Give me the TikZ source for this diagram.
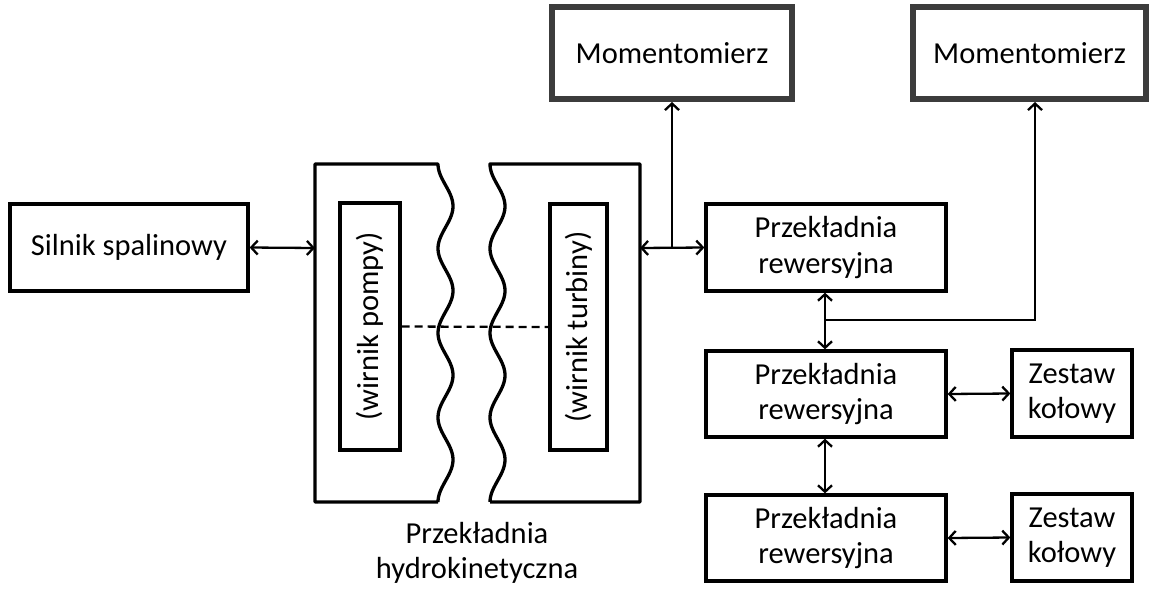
\documentclass[tikz,border=0pt]{standalone}
\usepackage{fontspec}
\setmainfont{Carlito}
\usetikzlibrary{arrows.meta}
\definecolor{mgray}{HTML}{3C3C3C}
\tikzset{
  txt/.style={font=\fontsize{30.5}{35.5}\selectfont},
  box/.style={draw=black, line width=3.3pt, fill=white, align=center, inner sep=0pt, txt},
  mbox/.style={box, draw=mgray, line width=6pt},
  conn/.style={line width=2.3pt, >={Straight Barb[length=6.5pt,width=14pt]}},
  hk/.style={line width=3.3pt, line join=round}
}
\begin{document}
\begin{tikzpicture}[x=1pt,y=-1pt]
\useasboundingbox (0,0) rectangle (1150,592);
% boxes
\node[box, minimum width=238pt, minimum height=87pt] (silnik) at (129,247.5) {Silnik spalinowy};
\node[mbox, minimum width=240pt, minimum height=92pt] (m1) at (672,53) {Momentomierz};
\node[mbox, minimum width=233pt, minimum height=92pt] (m2) at (1029.5,53) {Momentomierz};
\node[box, minimum width=240pt, minimum height=87pt] (p1) at (826,247.5) {Przekładnia\\rewersyjna};
\node[box, minimum width=240pt, minimum height=86pt] (p2) at (826,394) {Przekładnia\\rewersyjna};
\node[box, minimum width=240pt, minimum height=86pt] (p3) at (826,538) {Przekładnia\\rewersyjna};
\node[box, minimum width=120pt, minimum height=87pt] (z1) at (1072,393.5) {Zestaw\\kołowy};
\node[box, minimum width=120pt, minimum height=87pt] (z2) at (1072,537.5) {Zestaw\\kołowy};
% hydrokinetic coupling
\draw[hk] (438,502) -- (315,502) -- (315,164) -- (438,164) --
  plot[domain=0:338, samples=140, smooth, variable=\t] ({438+7.5*(1-cos(\t*4.2604))}, {164+\t});
\draw[hk] (490,502) -- (640,502) -- (640,164) -- (490,164) --
  plot[domain=0:338, samples=140, smooth, variable=\t] ({490+7.5*(1-cos(\t*4.2604))}, {164+\t});
\node[box, minimum width=60pt, minimum height=247pt] (pump) at (370,326.5) {};
\node[box, minimum width=57pt, minimum height=246pt] (turb) at (578.5,327) {};
\node[rotate=90, txt] (pumpt) at (pump.center) {(wirnik pompy)};
\node[rotate=90, txt] (turbt) at (turb.center) {(wirnik turbiny)};
\node[align=center, txt] (hklabel) at (477,553) {Przekładnia\\hydrokinetyczna};
\coordinate (hl) at (315,248);
\coordinate (hr) at (640,248);
\coordinate (j1) at (672,248);
\coordinate (j2) at (825,320);
% connectors
\draw[conn, dash pattern=on 8pt off 5pt] (pump.east) -- (turb.west);
\draw[conn,<->] (silnik.east) -- (hl);
\draw[conn,<->] (hr) -- (p1.west);
\draw[conn,->] (j1) -- (m1.south);
\draw[conn,<->] ([xshift=-1pt]p1.south) -- ([xshift=-1pt]p2.north);
\draw[conn,<->] ([xshift=-1pt]p2.south) -- ([xshift=-1pt]p3.north);
\draw[conn,->] (j2) -| ([xshift=5.5pt]m2.south);
\draw[conn,<->] (p2.east) -- (z1.west);
\draw[conn,<->] (p3.east) -- (z2.west);
\end{tikzpicture}
\end{document}
